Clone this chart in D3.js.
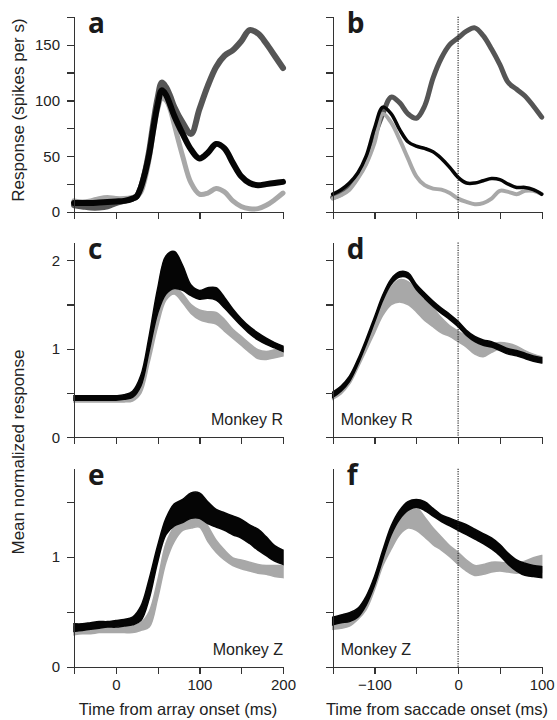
<!DOCTYPE html>
<html lang="en">
<head>
<meta charset="UTF-8">
<title>responses by D3</title>
<style>
  body { margin: 0; background: #fff; }
  .axis path, .axis line { stroke: #333; stroke-width: 1.2; shape-rendering: crispEdges; }
  .axis text { font-family: "Liberation Sans", Arial, sans-serif; font-size: 15px; fill: #222; }
  .title { font-family: "Liberation Sans", Arial, sans-serif; font-size: 16.5px; fill: #222; text-anchor: middle; }
  .ytitle { font-size: 17px; }
  .letter { font-family: "Open Sans", "DejaVu Sans", sans-serif; font-weight: 700; font-size: 28px; fill: #1a1a1a; }
  .monkey { font-family: "Liberation Sans", Arial, sans-serif; font-size: 16px; fill: #222; }
</style>
<script src="https://d3js.org/d3.v7.min.js"></script>
</head>
<body>
<script>
// ---- data ----
// top row: firing rate, three conditions
const tA = [-50,-40,-30,-20,-10,0,10,20,25,30,35,40,45,50,55,60,65,70,80,90,100,110,120,130,140,150,160,170,180,190,200];
const aDark  = [6,5,4,4,5,8,10,12,14,22,36,55,80,102,116,112,104,94,80,70,92,113,130,140,145,153,163,160,151,140,129];
const aBlack = [8,8,8,8.5,9,9.5,10,12,14,22,35,52,75,96,109,105,96,86,70,56,48,53,61,57,44,32,26,24,25,26,27];
const aLight = [10,9,10,12,13,12,12,13,14,18,30,48,72,92,102,100,92,78,50,26,16,17,21,18,10,5,3,3,6,11,17];

const tB = [-150,-140,-130,-120,-110,-100,-90,-80,-70,-60,-50,-40,-30,-20,-10,0,10,20,30,40,50,60,70,80,90,100];
const bDark  = [13,16,22,32,45,68,88,103,98,88,84,95,120,138,150,156,162,165,158,146,132,116,110,104,95,85];
const bBlack = [16,20,26,35,50,75,94,88,74,63,59,57,54,48,40,31,26,26,28,30,29,25,22,22,20,16];
const bLight = [12,15,20,30,43,62,88,80,65,48,32,24,21,20,17,12,9,7,8,12,19,18,16,19,19,16];

// middle / bottom rows: normalized response bands (upper, lower)
const tArr = [-50,-40,-30,-20,-10,0,10,20,30,40,50,60,70,80,90,100,110,120,130,140,150,160,170,180,190,200];
const tSac = [-150,-140,-130,-120,-110,-100,-90,-80,-70,-60,-50,-40,-30,-20,-10,0,10,20,30,40,50,60,70,80,90,100];

const cBlackHi = [0.47,0.47,0.47,0.47,0.47,0.47,0.48,0.52,0.70,1.15,1.68,2.05,2.10,1.94,1.72,1.66,1.69,1.69,1.58,1.45,1.34,1.25,1.18,1.12,1.07,1.03];
const cBlackLo = [0.42,0.42,0.42,0.42,0.42,0.42,0.43,0.45,0.58,0.98,1.40,1.62,1.68,1.66,1.60,1.56,1.57,1.55,1.46,1.36,1.26,1.17,1.10,1.05,1.01,0.97];
const cGrayHi  = [0.44,0.44,0.44,0.44,0.44,0.44,0.44,0.46,0.60,1.02,1.50,1.70,1.70,1.62,1.50,1.44,1.42,1.41,1.33,1.22,1.14,1.06,0.99,0.97,0.99,1.01];
const cGrayLo  = [0.40,0.40,0.40,0.40,0.40,0.40,0.40,0.41,0.50,0.85,1.25,1.55,1.62,1.52,1.40,1.33,1.30,1.28,1.20,1.12,1.04,0.96,0.89,0.88,0.90,0.92];

const dBlackHi = [0.51,0.58,0.69,0.88,1.11,1.36,1.61,1.79,1.87,1.86,1.73,1.63,1.54,1.46,1.39,1.31,1.21,1.14,1.10,1.08,1.04,1.00,0.98,0.95,0.92,0.90];
const dBlackLo = [0.45,0.52,0.63,0.82,1.05,1.30,1.55,1.73,1.81,1.80,1.67,1.57,1.48,1.40,1.33,1.25,1.15,1.08,1.04,1.02,0.98,0.94,0.92,0.89,0.86,0.84];
const dGrayHi  = [0.50,0.56,0.68,0.86,1.08,1.30,1.52,1.70,1.78,1.76,1.67,1.55,1.46,1.35,1.26,1.20,1.14,1.10,1.06,1.06,1.07,1.06,1.03,0.98,0.94,0.91];
const dGrayLo  = [0.43,0.49,0.60,0.78,0.98,1.18,1.38,1.50,1.53,1.50,1.42,1.32,1.25,1.18,1.14,1.08,1.02,0.94,0.91,0.96,1.00,0.99,0.95,0.91,0.88,0.85];

const eBlackHi = [0.39,0.39,0.40,0.41,0.41,0.42,0.43,0.45,0.55,0.80,1.10,1.35,1.48,1.52,1.58,1.58,1.50,1.43,1.40,1.37,1.34,1.29,1.25,1.18,1.10,1.06];
const eBlackLo = [0.32,0.33,0.34,0.35,0.36,0.36,0.37,0.38,0.42,0.62,0.95,1.20,1.28,1.31,1.35,1.35,1.30,1.27,1.24,1.20,1.17,1.12,1.06,1.01,0.96,0.93];
const eGrayHi  = [0.36,0.36,0.36,0.36,0.36,0.36,0.36,0.37,0.40,0.50,0.78,1.12,1.27,1.32,1.40,1.40,1.28,1.15,1.06,0.99,0.97,0.95,0.93,0.92,0.92,0.92];
const eGrayLo  = [0.29,0.30,0.30,0.31,0.31,0.31,0.31,0.31,0.33,0.36,0.62,0.95,1.14,1.24,1.26,1.27,1.14,1.04,0.97,0.92,0.89,0.87,0.85,0.84,0.82,0.81];

const fBlackHi = [0.45,0.47,0.49,0.53,0.64,0.82,1.06,1.28,1.42,1.50,1.52,1.50,1.44,1.38,1.35,1.32,1.29,1.25,1.21,1.17,1.11,1.03,0.97,0.94,0.92,0.91];
const fBlackLo = [0.38,0.40,0.41,0.45,0.56,0.74,0.98,1.20,1.34,1.42,1.45,1.42,1.37,1.32,1.28,1.24,1.20,1.16,1.12,1.07,1.01,0.93,0.87,0.83,0.82,0.81];
const fGrayHi  = [0.40,0.42,0.45,0.52,0.62,0.80,1.02,1.20,1.33,1.45,1.45,1.36,1.26,1.18,1.10,1.04,0.97,0.92,0.93,0.95,0.95,0.94,0.94,0.96,0.99,1.01];
const fGrayLo  = [0.34,0.35,0.37,0.43,0.52,0.70,0.92,1.07,1.20,1.26,1.24,1.18,1.11,1.06,1.00,0.93,0.87,0.83,0.84,0.86,0.87,0.86,0.85,0.86,0.86,0.86];

const xTicksArr = [-50,0,50,100,150,200];
const xTicksSac = [-150,-100,-50,0,50,100];

// ---- layout ----
const W = 557, H = 720;
const cols = [[74, 283], [332.7, 541.7]];
const rows = [
  { bottom: 212, top: 16.7, max: 175, ticks: d3.range(0, 176, 25), label: d => d % 50 === 0 },
  { bottom: 437.3, top: 242.6, max: 2.2, ticks: [0, 0.5, 1, 1.5, 2], label: d => d % 1 === 0 },
  { bottom: 666.7, top: 468.7, max: 1.8, ticks: [0, 0.5, 1, 1.5], label: d => d % 1 === 0 }
];

const svg = d3.select("body").append("svg")
  .attr("width", W).attr("height", H);

const fmt = d => d < 0 ? "\u2212" + Math.abs(d) : String(d);

function panel(col, row, times, ticks, letter, showX, drawFn, monkey, dotted) {
  const x = d3.scaleLinear().domain([times[0], times[times.length - 1]]).range(cols[col]);
  const r = rows[row];
  const y = d3.scaleLinear().domain([0, r.max]).range([r.bottom, r.top]);
  const g = svg.append("g");

  drawFn(g, x, y);

  if (dotted) {
    g.append("line")
      .attr("x1", x(0)).attr("x2", x(0))
      .attr("y1", r.top).attr("y2", r.bottom)
      .attr("stroke", "#222").attr("stroke-width", 1.1)
      .attr("stroke-dasharray", "1.2,1.2");
  }

  g.append("g").attr("class", "axis")
    .attr("transform", "translate(0," + r.bottom + ")")
    .call(d3.axisBottom(x).tickValues(ticks).tickSize(7).tickSizeOuter(0).tickPadding(6)
      .tickFormat(d => showX && d % 100 === 0 ? fmt(d) : ""));

  g.append("g").attr("class", "axis")
    .attr("transform", "translate(" + cols[col][0] + ",0)")
    .call(d3.axisLeft(y).tickValues(r.ticks).tickSize(7).tickSizeOuter(0).tickPadding(7)
      .tickFormat(d => col === 0 && r.label(d) ? d : ""));

  g.append("text").attr("class", "letter")
    .attr("x", cols[col][0] + 14).attr("y", r.top + 16)
    .text(letter);

  if (monkey) {
    g.append("text").attr("class", "monkey")
      .attr("x", col === 0 ? cols[col][1] : cols[col][0] + 8)
      .attr("y", r.bottom - 12)
      .attr("text-anchor", col === 0 ? "end" : "start")
      .text(monkey);
  }
}

function lines(series) {
  return (g, x, y) => {
    series.forEach(s => {
      const line = d3.line()
        .x((d, i) => x(s.t[i]))
        .y(d => y(d))
        .curve(d3.curveCatmullRom);
      g.append("path").datum(s.v)
        .attr("fill", "none")
        .attr("stroke", s.color)
        .attr("stroke-width", s.w)
        .attr("stroke-linejoin", "round")
        .attr("stroke-linecap", "round")
        .attr("d", line);
    });
  };
}

function bands(t, series) {
  return (g, x, y) => {
    series.forEach(s => {
      const area = d3.area()
        .x((d, i) => x(t[i]))
        .y0((d, i) => y(s.lo[i]))
        .y1(d => y(d))
        .curve(d3.curveCatmullRom);
      g.append("path").datum(s.hi)
        .attr("fill", s.color)
        .attr("stroke", s.color)
        .attr("stroke-width", 1.5)
        .attr("d", area);
    });
  };
}

const grey = "#a8a8a8", dark = "#555", black = "#050505";

panel(0, 0, tA, xTicksArr, "a", false, lines([
  { t: tA, v: aDark, color: dark, w: 6 },
  { t: tA, v: aLight, color: grey, w: 5 },
  { t: tA, v: aBlack, color: black, w: 6 }
]));
panel(1, 0, tB, xTicksSac, "b", false, lines([
  { t: tB, v: bDark, color: dark, w: 5 },
  { t: tB, v: bLight, color: grey, w: 4 },
  { t: tB, v: bBlack, color: black, w: 3.5 }
]), null, true);

panel(0, 1, tArr, xTicksArr, "c", false, bands(tArr, [
  { hi: cGrayHi, lo: cGrayLo, color: grey },
  { hi: cBlackHi, lo: cBlackLo, color: black }
]), "Monkey R");
panel(1, 1, tSac, xTicksSac, "d", false, bands(tSac, [
  { hi: dGrayHi, lo: dGrayLo, color: grey },
  { hi: dBlackHi, lo: dBlackLo, color: black }
]), "Monkey R", true);

panel(0, 2, tArr, xTicksArr, "e", true, bands(tArr, [
  { hi: eGrayHi, lo: eGrayLo, color: grey },
  { hi: eBlackHi, lo: eBlackLo, color: black }
]), "Monkey Z");
panel(1, 2, tSac, xTicksSac, "f", true, bands(tSac, [
  { hi: fGrayHi, lo: fGrayLo, color: grey },
  { hi: fBlackHi, lo: fBlackLo, color: black }
]), "Monkey Z", true);

// axis titles
svg.append("text").attr("class", "title ytitle")
  .attr("transform", "translate(24,110) rotate(-90)")
  .text("Response (spikes per s)");
svg.append("text").attr("class", "title ytitle")
  .attr("transform", "translate(24,452) rotate(-90)")
  .text("Mean normalized response");
svg.append("text").attr("class", "title")
  .attr("x", 178).attr("y", 715)
  .text("Time from array onset (ms)");
svg.append("text").attr("class", "title")
  .attr("x", 437).attr("y", 715)
  .text("Time from saccade onset (ms)");
</script>
</body>
</html>
